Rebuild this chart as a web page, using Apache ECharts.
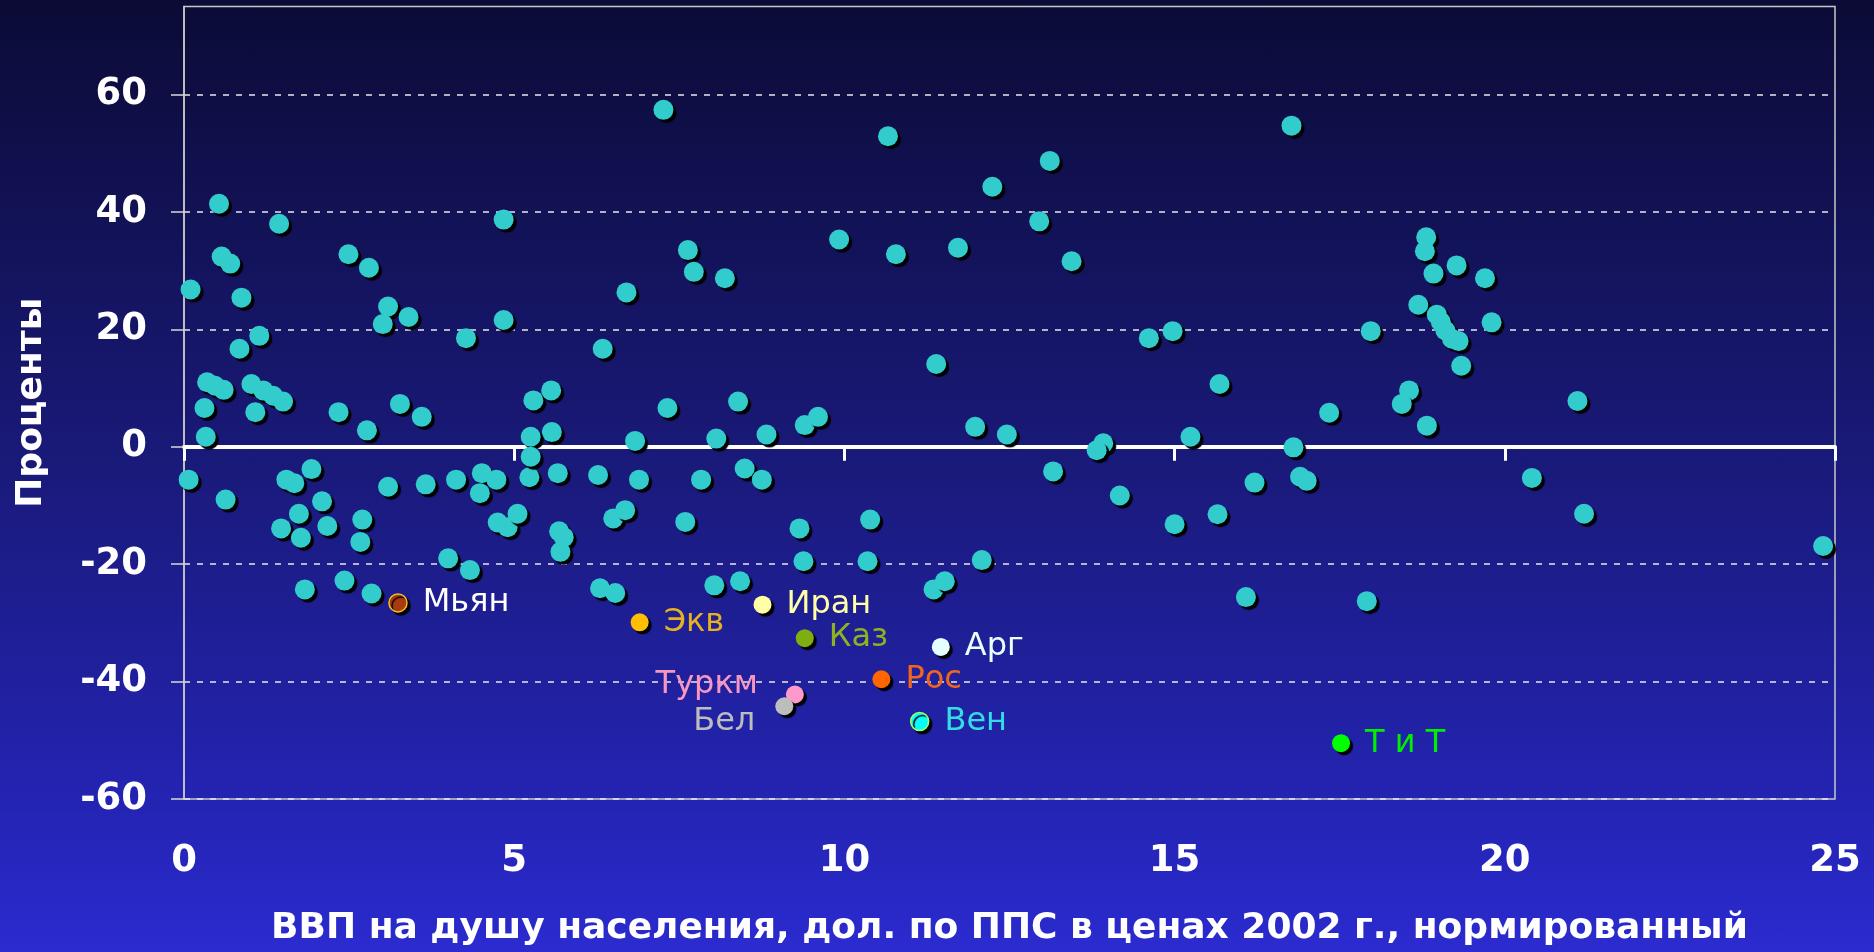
<!DOCTYPE html>
<html>
<head>
<meta charset="utf-8">
<script src="https://cdn.jsdelivr.net/npm/echarts@6/dist/echarts.min.js"></script>
<style>
html,body{margin:0;padding:0;}
#chart{width:1874px;height:952px;background:linear-gradient(to bottom,#0b0b36 0%,#1a1a7c 50%,#2424b4 85%,#2b2bd0 100%);}
</style>
</head>
<body>
<div id="chart"></div>
<script>
// X tick values and Y tick values
const xTickValues = [0, 5, 10, 15, 20, 25];
const yTickValues = [-60, -40, -20, 0, 20, 40, 60];

// Countries (cyan points): [GDP per capita normalized, percent]
const countriesAbove = [
  [0.53,41.4],[1.44,38.0],[0.57,32.4],[0.70,31.2],[0.10,26.8],[0.87,25.4],[2.49,32.8],[2.80,30.5],
  [3.09,23.9],[3.01,20.9],[3.40,22.1],[4.84,38.7],[4.84,21.6],[4.27,18.5],[1.14,18.9],[0.84,16.7],
  [0.35,11.0],[0.47,10.4],[0.60,9.7],[1.02,10.7],[1.20,9.6],[1.35,8.7],[1.50,7.7],
  [0.31,6.6],[1.08,5.9],[2.34,5.9],[2.77,2.8],[0.33,1.7],[3.27,7.3],[3.60,5.1],
  [5.29,7.9],[5.56,9.6],[5.57,2.5],[5.25,1.7],[6.34,16.7],
  [7.26,57.4],[10.66,52.9],[12.24,44.3],[9.92,35.3],[10.78,32.8],[11.72,33.9],[7.63,33.5],[7.72,29.8],
  [8.19,28.7],[6.70,26.3],[11.39,14.1],[7.32,6.6],[8.39,7.7],[6.83,1.0],[8.06,1.4],[8.82,2.1],
  [9.40,3.7],[9.60,5.1],[11.98,3.4],[12.46,2.1],
  [16.77,54.7],[13.11,48.7],[12.95,38.4],[13.44,31.6],[14.61,18.5],[14.97,19.7],[17.97,19.7],
  [15.68,10.7],[17.34,5.8],[18.55,9.6],[18.44,7.3],[18.82,3.6],[13.92,0.6],[13.82,-0.6],[15.24,1.7],[16.80,-0.1],
  [18.81,35.7],[18.79,33.3],[18.92,29.5],[18.69,24.2],[19.27,30.9],[19.70,28.7],[18.97,22.5],[19.03,21.3],
  [19.10,19.8],[19.20,18.4],[19.30,18.0],[19.80,21.2],[19.34,13.8],[21.10,7.8]
];
const countriesBelow = [
  [0.07,-5.6],[0.63,-9.0],[1.55,-5.6],[1.67,-6.2],[1.93,-3.8],[2.09,-9.3],[1.74,-11.4],[1.47,-13.9],
  [1.77,-15.5],[2.17,-13.5],[2.70,-12.4],[2.67,-16.2],[3.09,-6.8],[3.66,-6.4],[4.12,-5.6],[4.51,-4.5],
  [4.73,-5.6],[4.48,-7.9],[5.23,-5.2],[5.66,-4.5],[5.25,-1.7],[6.27,-4.8],[4.75,-12.9],[4.90,-13.7],
  [5.05,-11.4],[5.68,-14.4],[5.75,-15.4],[5.70,-17.9],[1.83,-24.3],[2.43,-22.8],[2.84,-25.0],[4.00,-19.0],[4.33,-21.0],
  [6.89,-5.6],[7.83,-5.6],[8.49,-3.7],[8.75,-5.6],[6.50,-12.2],[6.68,-10.8],[7.59,-12.8],[9.32,-13.9],
  [10.39,-12.4],[9.38,-19.5],[10.35,-19.5],[12.08,-19.3],[11.35,-24.3],[11.52,-22.9],[6.30,-24.1],[6.53,-24.9],
  [8.03,-23.6],[8.42,-22.9],
  [13.16,-4.2],[14.17,-8.3],[15.00,-13.2],[15.65,-11.5],[16.21,-6.1],[16.90,-5.1],[17.00,-5.8],
  [16.08,-25.6],[17.91,-26.3],[20.41,-5.3],[21.20,-11.4],[24.82,-16.9]
];

// Highlighted countries
const namedLabels = ['Мьян', 'Экв', 'Иран', 'Каз', 'Арг', 'Рос', 'Туркм', 'Бел', 'Вен', 'Т и Т'];
const namedX = [3.24, 6.90, 8.76, 9.40, 11.46, 10.56, 9.25, 9.09, 11.14, 17.52];
const namedY = [-26.6, -29.9, -26.9, -32.6, -34.1, -39.6, -42.2, -44.2, -46.8, -50.5];

// Styles for highlighted points (kept apart from data)
const namedStyle = {
  'Мьян':  {fill: '#a83a0e', border: '#f0c020', text: '#ffffff'},
  'Экв':   {fill: '#ffbf00', text: '#e6b022'},
  'Иран':  {fill: '#ffffa6', text: '#ffffa6'},
  'Каз':   {fill: '#7fae12', text: '#8fb31e'},
  'Арг':   {fill: '#e6ffff', text: '#e6ffff'},
  'Рос':   {fill: '#ff6600', text: '#f0661c'},
  'Туркм': {fill: '#ff99cc', text: '#f797c0', pos: 'left', dist: 28, offset: [0, -10]},
  'Бел':   {fill: '#bdbdbd', text: '#bdbdbd', pos: 'left', dist: 20, offset: [0, 15]},
  'Вен':   {fill: '#00ffff', border: '#99ff66', text: '#33dde6'},
  'Т и Т': {fill: '#00ff00', text: '#00ee00'}
};

const FONT = 'DejaVu Sans';
const chart = echarts.init(document.getElementById('chart'));

const namedData = namedLabels.map((n, i) => {
  const s = namedStyle[n];
  return {
    name: n,
    value: [namedX[i], namedY[i]],
    itemStyle: {color: s.fill, borderColor: s.border || s.fill, borderWidth: s.border ? 1.5 : 0},
    label: {
      show: true,
      formatter: n,
      position: s.pos || 'right',
      distance: s.dist || 15,
      offset: s.offset || [0, 0],
      color: s.text,
      fontFamily: FONT,
      fontSize: 32
    }
  };
});

const option = {
  backgroundColor: 'transparent',
  animation: false,
  grid: {
    left: 184, top: 6.5, width: 1651, height: 793,
    show: true, borderColor: '#c8c8c8', borderWidth: 1.5, backgroundColor: 'transparent'
  },
  xAxis: [
    {
      type: 'value', min: xTickValues[0], max: xTickValues[xTickValues.length - 1], interval: 5,
      position: 'bottom',
      name: 'ВВП на душу населения, дол. по ППС в ценах 2002 г., нормированный',
      nameLocation: 'middle', nameGap: 112,
      nameTextStyle: {color: '#ffffff', fontFamily: FONT, fontWeight: 'bold', fontSize: 36},
      axisLine: {show: false, onZero: false},
      axisTick: {show: false},
      splitLine: {show: false},
      axisLabel: {color: '#ffffff', fontFamily: FONT, fontWeight: 'bold', fontSize: 37, margin: 44}
    },
    {
      type: 'value', min: xTickValues[0], max: xTickValues[xTickValues.length - 1], interval: 5,
      position: 'bottom',
      axisLine: {show: true, onZero: true, lineStyle: {color: '#ffffff', width: 4}},
      axisTick: {show: true, length: 14, lineStyle: {color: '#ffffff', width: 3}},
      axisLabel: {show: false},
      splitLine: {show: false}
    }
  ],
  yAxis: {
    type: 'value', min: -60, max: 75, interval: 20,
    name: 'Проценты', nameLocation: 'middle', nameGap: 134, nameRotate: 90,
    nameTextStyle: {color: '#ffffff', fontFamily: FONT, fontWeight: 'bold', fontSize: 36},
    axisLine: {show: true, onZero: false, lineStyle: {color: '#c8c8c8', width: 1.5}},
    axisTick: {show: true, length: 13, customValues: yTickValues, lineStyle: {color: '#d8d8d8', width: 1.5}},
    axisLabel: {
      customValues: yTickValues,
      color: '#ffffff', fontFamily: FONT, fontWeight: 'bold', fontSize: 37, margin: 37
    },
    splitLine: {show: true, lineStyle: {color: '#e8e8e8', width: 1.5, type: [6, 7]}}
  },
  series: [
    {
      type: 'scatter', xAxisIndex: 0, data: countriesAbove.concat(countriesBelow),
      symbol: 'circle', symbolSize: 20,
      itemStyle: {color: '#33cccc', shadowColor: '#000000', shadowBlur: 1, shadowOffsetX: 3, shadowOffsetY: 3, opacity: 1},
      z: 3
    },
    {
      type: 'scatter', xAxisIndex: 0, data: namedData,
      symbol: 'circle', symbolSize: 18,
      itemStyle: {shadowColor: '#000000', shadowBlur: 1, shadowOffsetX: 3, shadowOffsetY: 3, opacity: 1},
      z: 4
    }
  ]
};
chart.setOption(option);
</script>
</body>
</html>
